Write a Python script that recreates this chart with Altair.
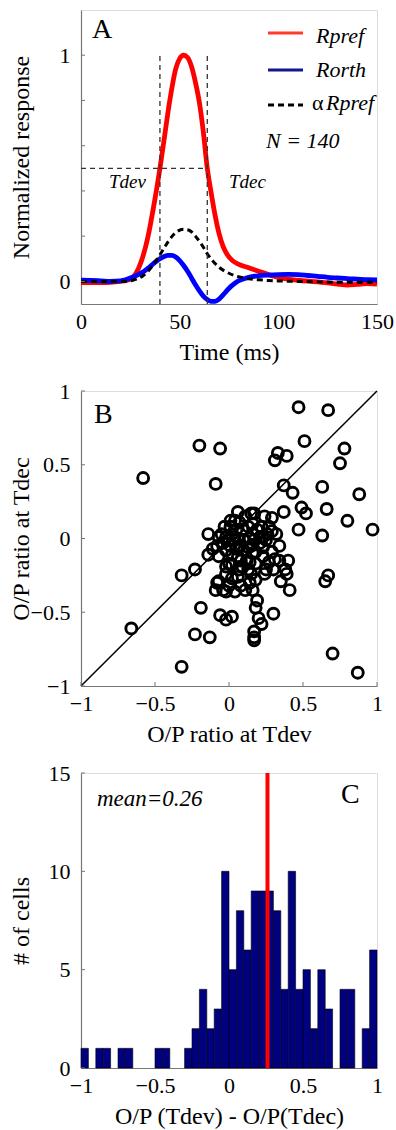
import altair as alt
import pandas as pd
import numpy as np

FONT = "Liberation Serif"
AXC = "#777777"

# ---------------- Panel A : population responses ----------------
t_pref = [0, 5, 10, 15, 20, 23, 25, 27, 29, 31, 34, 37, 40, 42, 45, 48, 50, 52, 54, 56,
          58, 60, 62, 64, 66, 68, 70, 72, 74, 77, 80, 85, 90, 95, 100, 105, 110, 120,
          130, 135, 140, 145, 150]
r_pref = [-0.005, -0.005, -0.005, -0.004, 0.0, 0.004, 0.01, 0.025, 0.055, 0.1, 0.2, 0.34,
          0.5, 0.62, 0.8, 0.94, 0.985, 1.0, 0.99, 0.95, 0.88, 0.79, 0.66, 0.5, 0.39, 0.29,
          0.21, 0.155, 0.12, 0.09, 0.075, 0.06, 0.045, 0.03, 0.018, 0.01, 0.005, -0.002,
          -0.012, -0.016, -0.013, -0.01, -0.012]

t_orth = [0, 5, 10, 15, 20, 23, 26, 29, 32, 35, 38, 41, 44, 46, 48, 50, 52, 54, 56, 58,
          60, 62, 64, 66, 68, 70, 72, 74, 76, 78, 80, 83, 86, 90, 95, 100, 105, 110, 115,
          120, 125, 130, 135, 140, 145, 150]
r_orth = [0.005, 0.004, 0.002, 0.0, 0.002, 0.008, 0.018, 0.03, 0.045, 0.065, 0.088, 0.105,
          0.115, 0.115, 0.108, 0.092, 0.07, 0.045, 0.015, -0.015, -0.042, -0.065, -0.08,
          -0.088, -0.088, -0.078, -0.06, -0.04, -0.022, -0.008, 0.003, 0.013, 0.02, 0.025,
          0.028, 0.03, 0.031, 0.03, 0.026, 0.022, 0.018, 0.015, 0.012, 0.01, 0.008, 0.007]

t_alpha = [0, 10, 20, 25, 28, 31, 34, 37, 40, 43, 46, 49, 52, 55, 58, 61, 64, 67, 70, 74,
           78, 82, 86, 90, 95, 100, 110, 120, 130, 140, 150]
r_alpha = [0.0, 0.0, 0.0, 0.002, 0.01, 0.022, 0.045, 0.078, 0.118, 0.16, 0.198, 0.222,
           0.23, 0.225, 0.2, 0.165, 0.122, 0.088, 0.062, 0.04, 0.025, 0.016, 0.01, 0.007,
           0.004, 0.002, 0.0, -0.002, -0.004, -0.004, -0.004]

t_dev, t_dec = 40, 64
half_level = 0.5
a_ymin, a_ymax = -0.1, 1.2
a_yticks = [0, 0.2, 0.4, 0.6, 0.8, 1.0]
a_ylabels = [0, 1]
a_xticks = [0, 50, 100, 150]

# ---------------- Panel B : O/P ratios ----------------
op_dev = [0.47, 0.67, 0.51, 0.78, 0.75, -0.20, -0.06, -0.58, -0.09, 0.33, 0.31, 0.39, 0.37,
          0.43, 0.63, 0.88, 0.49, 0.52, 0.66, 0.37, 0.80, 0.97, 0.47, 0.63, 0.67, 0.65, 0.70,
          0.87, -0.32, -0.66, -0.23, -0.13, -0.19, -0.32, -0.23, 0.17, 0.17, 0.17, 0.22, 0.20,
          0.19, 0.18, 0.30, -0.06, -0.02, 0.02, -0.14, -0.14, 0.06, 0.15, 0.17, 0.01, 0.24,
          0.29, 0.34, 0.40, 0.38, 0.35, 0.41, 0.39, 0.25, 0.31, 0.32, 0.29, -0.05, -0.04,
          -0.02, 0.0, 0.02, 0.06, 0.09, 0.13, 0.16, 0.19, 0.23, 0.26, 0.21, 0.15, 0.10, 0.05,
          -0.02, -0.08, 0.02, 0.16, 0.23, 0.27, 0.12, 0.07, 0.16, -0.02, -0.07, -0.04, 0.0,
          0.04, 0.02, 0.06, 0.08, 0.11, 0.14, 0.18, 0.07, 0.13, -0.09, -0.02, 0.18, 0.23,
          0.10, 0.01, -0.07, 0.14, 0.17, 0.07, -0.02, 0.27, 0.05, 0.09, 0.15, 0.01, 0.04,
          0.13, 0.18, -0.03, 0.25, 0.29, 0.34, -0.07, 0.0, 0.16, 0.30, 0.24, 0.04, 0.11,
          -0.08, 0.06, -0.11, 0.22, 0.08, 0.14, 0.02, 0.21]
op_dec = [0.89, 0.87, 0.66, 0.61, 0.51, 0.63, 0.61, 0.41, 0.37, 0.58, 0.53, 0.56, 0.36,
          0.31, 0.35, 0.30, 0.21, 0.17, 0.20, 0.18, 0.12, 0.06, 0.06, 0.02, -0.25, -0.29,
          -0.78, -0.91, -0.87, -0.61, -0.65, -0.67, -0.47, -0.25, -0.21, -0.67, -0.63, -0.69,
          -0.58, -0.54, -0.42, -0.47, -0.51, -0.52, -0.55, -0.53, 0.03, -0.11, 0.18, 0.17,
          0.17, 0.12, 0.15, 0.14, -0.05, -0.15, -0.21, -0.29, -0.35, -0.24, -0.21, -0.14,
          0.03, 0.05, 0.03, -0.03, 0.01, -0.01, 0.03, 0.0, 0.06, 0.08, 0.03, 0.06, 0.01,
          0.03, -0.03, -0.05, -0.08, -0.07, -0.08, -0.05, -0.11, -0.10, -0.12, -0.16, -0.15,
          0.11, 0.10, -0.19, -0.29, -0.35, -0.32, -0.36, -0.27, -0.26, -0.32, -0.35, -0.30,
          -0.28, -0.21, -0.21, -0.35, -0.36, -0.17, -0.06, -0.01, 0.08, 0.01, 0.0, -0.01,
          -0.05, -0.24, 0.08, 0.06, -0.19, -0.24, -0.05, -0.01, -0.06, -0.09, 0.08, -0.01,
          -0.09, -0.15, -0.12, -0.17, -0.35, -0.21, -0.24, 0.12, 0.15, -0.30, -0.12, -0.07,
          0.08, -0.15, -0.16, -0.18, 0.01]
b_ticks = [-1, -0.5, 0, 0.5, 1]
diag = [-1, 1]

# ---------------- Panel C : histogram of differences ----------------
hist_counts = [1, 0, 1, 1, 0, 1, 1, 0, 0, 0, 1, 1, 0, 0, 1, 2, 4, 2, 3, 10,
               5, 8, 6, 9, 9, 9, 8, 4, 10, 4, 5, 2, 5, 3, 0, 4, 4, 0, 2, 6]
bin_edges = np.linspace(-1, 1, len(hist_counts) + 1)
mean_diff = 0.26
c_yticks = [0, 5, 10, 15]
c_xticks = [-1, -0.5, 0, 0.5, 1]

W = 296
HA, HB, HC = 294, 295, 295

LAB = 22
TIT = 24


def xaxis(values, title, fmt="~r"):
    return alt.Axis(values=values, title=title, format=fmt, ticks=False, tickSize=0,
                    labelFlush=False, labelOverlap=False, labelPadding=24,
                    labelBaseline="alphabetic", labelFont=FONT, labelFontSize=LAB,
                    labelColor="black", titleFont=FONT, titleFontSize=TIT,
                    titleFontWeight="normal", titleColor="black", titleBaseline="alphabetic",
                    titleX=W / 2, titleY=55, grid=False, domainColor=AXC, domainWidth=1.2)


def yaxis(values, title, h, fmt="~r"):
    return alt.Axis(values=values, title=title, format=fmt, ticks=False, tickSize=0,
                    labelFlush=False, labelOverlap=False, labelPadding=11,
                    labelFont=FONT, labelFontSize=LAB, labelColor="black",
                    titleFont=FONT, titleFontSize=TIT, titleFontWeight="normal",
                    titleColor="black", titleAngle=270, titleBaseline="alphabetic",
                    titleAlign="center", titleX=-53, titleY=h / 2, grid=False,
                    domainColor=AXC, domainWidth=1.2)


def txt(s, x, y, size=22, italic=False, align="left"):
    return alt.Chart(pd.DataFrame({"s": [s]})).mark_text(
        font=FONT, fontSize=size, fontStyle="italic" if italic else "normal",
        align=align, baseline="alphabetic", color="black"
    ).encode(text="s:N", x=alt.value(x), y=alt.value(y))


# ---------------- build A ----------------
xA = alt.X("t:Q", scale=alt.Scale(domain=[0, 150], nice=False, zero=False),
           axis=xaxis(a_xticks, "Time (ms)"))
yA = alt.Y("r:Q", scale=alt.Scale(domain=[a_ymin, a_ymax], nice=False, zero=False),
           axis=yaxis(a_ylabels, "Normalized response", HA))

df_pref = pd.DataFrame({"t": t_pref, "r": r_pref})
df_orth = pd.DataFrame({"t": t_orth, "r": r_orth})
df_alpha = pd.DataFrame({"t": t_alpha, "r": r_alpha})

red = alt.Chart(df_pref).mark_line(color="#ff0000", strokeWidth=4.8, interpolate="monotone").encode(x=xA, y=yA)
blue = alt.Chart(df_orth).mark_line(color="#0000ff", strokeWidth=4.8, interpolate="monotone").encode(x="t:Q", y="r:Q")
alpha_l = alt.Chart(df_alpha).mark_line(color="black", strokeWidth=3, strokeDash=[6, 4],
                                        interpolate="monotone").encode(x="t:Q", y="r:Q")

df_v = pd.DataFrame({"t": [t_dev, t_dec], "lo": [a_ymin, a_ymin], "hi": [1.0, 1.0]})
vlines = alt.Chart(df_v).mark_rule(color="#333333", strokeWidth=1.3, strokeDash=[5, 4]).encode(
    x="t:Q", y="lo:Q", y2="hi:Q")
df_h = pd.DataFrame({"t0": [0], "t1": [t_dec], "r": [half_level]})
hline = alt.Chart(df_h).mark_rule(color="#333333", strokeWidth=1.3, strokeDash=[5, 4]).encode(
    x="t0:Q", x2="t1:Q", y="r:Q")

ticksA = alt.Chart(pd.DataFrame({"r": a_yticks})).mark_rule(color=AXC, strokeWidth=1).encode(
    y="r:Q", x=alt.value(0), x2=alt.value(4))

leg_red = alt.Chart(pd.DataFrame({"a": [0]})).mark_rule(color="#ff3b2a", strokeWidth=3).encode(
    x=alt.value(187), x2=alt.value(222), y=alt.value(23))
leg_blue = alt.Chart(pd.DataFrame({"a": [0]})).mark_rule(color="#151590", strokeWidth=3).encode(
    x=alt.value(187), x2=alt.value(222), y=alt.value(60))
leg_dash = alt.Chart(pd.DataFrame({"a": [0]})).mark_rule(color="black", strokeWidth=3, strokeDash=[6, 4]).encode(
    x=alt.value(187), x2=alt.value(222), y=alt.value(95))

chartA = alt.layer(
    red, blue, alpha_l, vlines, hline, ticksA,
    leg_red, leg_blue, leg_dash,
    txt("Rpref", 235, 33, 22, True),
    txt("Rorth", 235, 67, 22, True),
    txt("\u03b1", 231, 100, 22, False),
    txt("Rpref", 245, 100, 22, True),
    txt(f"N = {140}", 185, 138, 22, True),
    txt("A", 11, 28, 28),
    txt("Tdev", 28, 178, 19, True),
    txt("Tdec", 148, 178, 19, True),
).properties(width=W, height=HA)

# ---------------- build B ----------------
xB = alt.X("x:Q", scale=alt.Scale(domain=[-1, 1], nice=False, zero=False),
           axis=xaxis(b_ticks, "O/P ratio at Tdev"))
yB = alt.Y("y:Q", scale=alt.Scale(domain=[-1, 1], nice=False, zero=False),
           axis=yaxis(b_ticks, "O/P ratio at Tdec", HB))

diag_l = alt.Chart(pd.DataFrame({"x": diag, "y": diag})).mark_line(color="black", strokeWidth=1.5).encode(x=xB, y=yB)
pts = alt.Chart(pd.DataFrame({"x": op_dev, "y": op_dec})).mark_point(
    shape="circle", filled=False, color="black", size=120, strokeWidth=2.9, opacity=1
).encode(x="x:Q", y="y:Q")
ticksBy = alt.Chart(pd.DataFrame({"y": b_ticks})).mark_rule(color=AXC, strokeWidth=1).encode(
    y="y:Q", x=alt.value(0), x2=alt.value(4))
ticksBx = alt.Chart(pd.DataFrame({"x": b_ticks})).mark_rule(color=AXC, strokeWidth=1).encode(
    x="x:Q", y=alt.value(HB), y2=alt.value(HB - 4))

chartB = alt.layer(diag_l, pts, ticksBy, ticksBx, txt("B", 13, 32, 28)).properties(width=W, height=HB)

# ---------------- build C ----------------
df_hist = pd.DataFrame({"x0": bin_edges[:-1], "x1": bin_edges[1:], "n": hist_counts,
                        "base": [0] * len(hist_counts)})
df_hist = df_hist[df_hist["n"] > 0]
xC = alt.X("x0:Q", scale=alt.Scale(domain=[-1, 1], nice=False, zero=False),
           axis=xaxis(c_xticks, "O/P (Tdev) - O/P(Tdec)"))
yC = alt.Y("n:Q", scale=alt.Scale(domain=[0, 15], nice=False, zero=True),
           axis=yaxis(c_yticks, "# of cells", HC))

bars = alt.Chart(df_hist).mark_rect(color="#000080", stroke="black", strokeWidth=0.6, opacity=1).encode(
    x=xC, x2="x1:Q", y=yC, y2="base:Q")
mean_rule = alt.Chart(pd.DataFrame({"x0": [mean_diff], "lo": [0], "hi": [15]})).mark_rule(
    color="#ff0000", strokeWidth=4).encode(x="x0:Q", y="lo:Q", y2="hi:Q")
ticksCy = alt.Chart(pd.DataFrame({"n": c_yticks})).mark_rule(color=AXC, strokeWidth=1).encode(
    y="n:Q", x=alt.value(0), x2=alt.value(4))

chartC = alt.layer(bars, mean_rule, ticksCy,
                   txt(f"mean={mean_diff}", 16, 33, 23, True),
                   txt("C", 260, 30, 28)).properties(width=W, height=HC)

chart = alt.vconcat(chartA, chartB, chartC, spacing=87, bounds="flush").properties(
    padding={"left": 8, "top": 9, "right": 0, "bottom": 0}
).configure_view(stroke=None).configure(background="white")

chart.save("out.html", embed_options={"renderer": "svg", "actions": False})
